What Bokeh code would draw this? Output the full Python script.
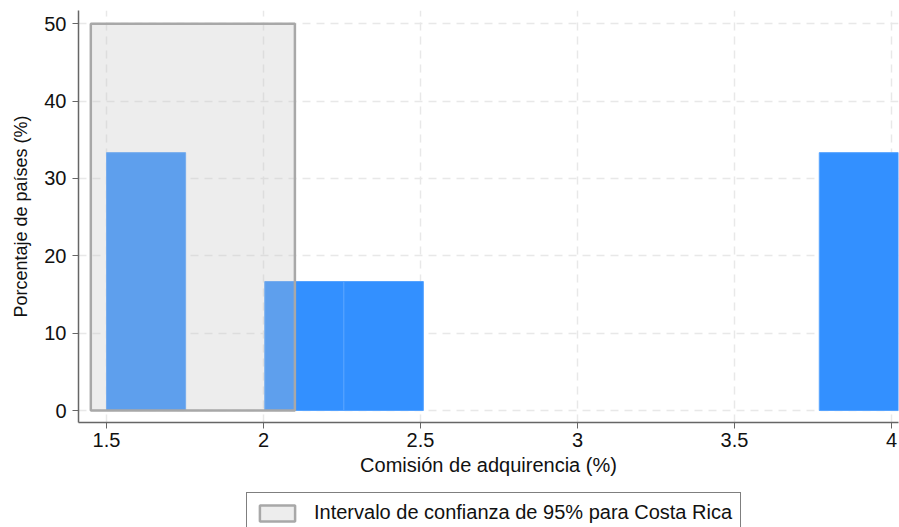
from bokeh.plotting import figure
from bokeh.models import Range1d, FixedTicker, Legend, LegendItem
from bokeh.layouts import column
from bokeh.embed import file_html
from bokeh.resources import INLINE

# Data
bin_left = [1.5, 2.004, 2.256, 3.770]
bin_right = [1.752, 2.256, 2.509, 4.022]
pct_countries = [33.33, 16.67, 16.67, 33.33]

ci_low = 1.45
ci_high = 2.10
ci_top = 50

x_ticks = [1.5, 2, 2.5, 3, 3.5, 4]
y_ticks = [0, 10, 20, 30, 40, 50]
legend_label = "Intervalo de confianza de 95% para Costa Rica"

FONT = "Liberation Sans"
CI_FILL = "#c5c5c5"
CI_LINE = "#a8a8a8"

p = figure(width=899, height=488, output_backend="svg", toolbar_location=None,
           x_range=Range1d(1.4108, 4.0223), y_range=Range1d(-1.55, 51.7),
           min_border_left=78, min_border_right=1, min_border_top=10, min_border_bottom=66)
p.outline_line_color = None
p.background_fill_color = "white"
p.border_fill_color = "white"

p.quad(left=bin_left, right=bin_right, bottom=0, top=pct_countries,
       fill_color="#3390ff", line_color="#56a3ff", line_width=1)

p.quad(left=[ci_low], right=[ci_high], bottom=[0], top=[ci_top],
       fill_color=CI_FILL, fill_alpha=0.3, line_color=CI_LINE, line_width=2.5)

for ax in (p.xaxis, p.yaxis):
    ax.axis_line_color = "#666666"
    ax.axis_line_width = 1.5
    ax.major_tick_line_color = "#666666"
    ax.major_tick_out = 6
    ax.major_tick_in = 0
    ax.minor_tick_line_color = None
    ax.major_label_text_font = FONT
    ax.major_label_text_font_size = "20px"
    ax.major_label_text_color = "#111111"
    ax.axis_label_text_font = FONT
    ax.axis_label_text_font_size = "20px"
    ax.axis_label_text_font_style = "normal"
    ax.axis_label_text_color = "#111111"

p.yaxis.axis_label_text_font_size = "18px"
p.xaxis.ticker = FixedTicker(ticks=x_ticks)
p.yaxis.ticker = FixedTicker(ticks=y_ticks)
p.xaxis.axis_label = "Comisión de adquirencia (%)"
p.yaxis.axis_label = "Porcentaje de países (%)"
p.xaxis.axis_label_standoff = 4
p.yaxis.axis_label_standoff = 10
p.xaxis.major_label_standoff = 4
p.yaxis.major_label_standoff = 6

p.xgrid.ticker = FixedTicker(ticks=x_ticks)
p.ygrid.ticker = FixedTicker(ticks=y_ticks)
for g in (p.xgrid, p.ygrid):
    g.grid_line_color = "#e8e8e8"
    g.grid_line_width = 1.5
    g.grid_line_dash = "8 6"

# Legend strip below the chart
lg = figure(width=899, height=39, output_backend="svg", toolbar_location=None,
            x_range=Range1d(0, 1), y_range=Range1d(0, 1),
            x_axis_location=None, y_axis_location=None,
            min_border_left=0, min_border_right=0, min_border_top=0, min_border_bottom=0)
lg.outline_line_color = None
lg.xgrid.visible = False
lg.ygrid.visible = False
dummy = lg.quad(left=[5], right=[6], bottom=[5], top=[6],
                fill_color=CI_FILL, fill_alpha=0.3, line_color=CI_LINE, line_width=2.5)

legend = Legend(items=[LegendItem(label=legend_label, renderers=[dummy])],
                location=(168, -6), orientation="horizontal")
legend.border_line_color = "black"
legend.border_line_width = 1
legend.label_text_font = FONT
legend.label_text_font_size = "20px"
legend.label_text_color = "#111111"
legend.label_standoff = 15
legend.glyph_width = 44
legend.glyph_height = 20
legend.padding = 8
legend.margin = 0
legend.background_fill_color = "white"
lg.add_layout(legend)

layout = column(p, lg, spacing=0)
open("out.html", "w").write(file_html(layout, INLINE))
